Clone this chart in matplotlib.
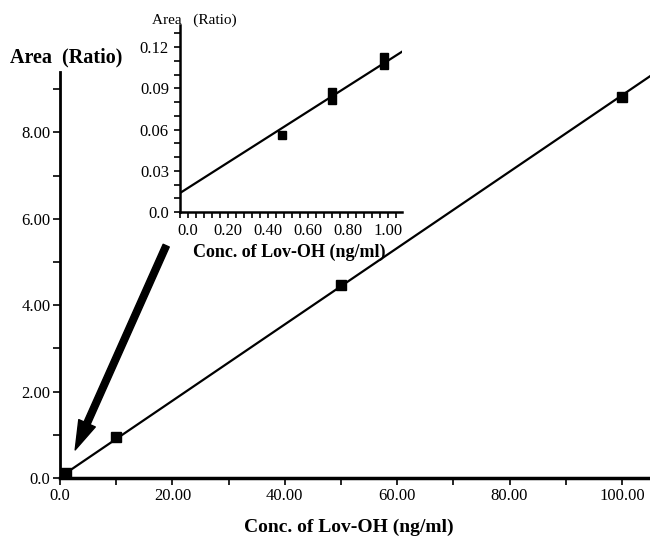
#!/usr/bin/env python
'''
calibration curve of Lov-OH with a low-range inset
'''

import matplotlib
matplotlib.use("Agg")
import matplotlib.pyplot as plt
from matplotlib.ticker import MultipleLocator

plt.rcParams['font.family'] = ['Liberation Serif', 'DejaVu Serif']

# main curve
conc = [0.47, 0.72, 0.98, 10, 50, 100]
area = [0.056, 0.084, 0.110, 0.95, 4.46, 8.82]
main_fit = (0.0884, 0.02)  # slope, intercept

x_ticks = [0, 20, 40, 60, 80, 100]
x_labels = ['0.0', '20.00', '40.00', '60.00', '80.00', '100.00']
y_ticks = [0, 2, 4, 6, 8]
y_labels = ['0.0', '2.00', '4.00', '6.00', '8.00']

# inset, low range (replicates drawn separately)
conc_low = [0.47, 0.72, 0.72, 0.98, 0.98]
area_low = [0.056, 0.0815, 0.0873, 0.107, 0.113]
inset_fit = (0.0926, 0.0175)

xi_ticks = [0, 0.2, 0.4, 0.6, 0.8, 1.0]
xi_labels = ['0.0', '0.20', '0.40', '0.60', '0.80', '1.00']
yi_ticks = [0, 0.03, 0.06, 0.09, 0.12]
yi_labels = ['0.0', '0.03', '0.06', '0.09', '0.12']


def style_axes(ax, lw, tick_len, fs, pad):
    for side in ['top', 'right']:
        ax.spines[side].set_visible(False)
    for side in ['left', 'bottom']:
        ax.spines[side].set_linewidth(lw)
    ax.tick_params(which='both', direction='out', width=1.2, length=tick_len,
                   labelsize=fs, pad=pad)


def plot_curve():
    fig = plt.figure(figsize=(6.5, 5.39), dpi=100)

    ax = fig.add_axes([60 / 650, 61 / 539, 590 / 650, 406 / 539])
    ax.plot(conc, area, 's', color='black', markersize=7)
    ax.axline((0, main_fit[1]), slope=main_fit[0], color='black', lw=1.6)
    ax.set_xlim(0, 105)
    ax.set_ylim(0, 9.4)
    ax.set_xticks(x_ticks, x_labels)
    ax.set_yticks(y_ticks, y_labels)
    ax.xaxis.set_minor_locator(MultipleLocator(10))
    ax.yaxis.set_minor_locator(MultipleLocator(1))
    style_axes(ax, 2.0, 5, 12, 2)
    ax.spines['bottom'].set_linewidth(2.5)
    ax.set_xlabel('Conc. of Lov-OH (ng/ml)', fontsize=14, fontweight='bold')
    ax.xaxis.set_label_coords(0.49, -0.1)
    fig.text(10 / 650, 1 - 57 / 539, 'Area  (Ratio)', fontsize=14.5,
             fontweight='bold', va='center')

    # arrow pointing at the low range
    ax.annotate('', xy=(2.7, 0.65), xytext=(18.9, 5.38),
                arrowprops=dict(facecolor='black', edgecolor='black',
                                width=4.8, headwidth=13, headlength=21,
                                shrink=0))

    ins = fig.add_axes([180 / 650, 327 / 539, 222 / 650, 187 / 539])
    ins.patch.set_alpha(0)
    ins.plot(conc_low, area_low, 's', color='black', markersize=5.5)
    ins.axline((0, inset_fit[1]), slope=inset_fit[0], color='black', lw=1.6)
    ins.set_xlim(-0.04, 1.07)
    ins.set_ylim(0, 0.136)
    ins.set_xticks(xi_ticks, xi_labels)
    ins.set_yticks(yi_ticks, yi_labels)
    ins.xaxis.set_minor_locator(MultipleLocator(0.04))
    ins.yaxis.set_minor_locator(MultipleLocator(0.01))
    style_axes(ins, 1.8, 4, 12, 4)
    ins.set_xlabel('Conc. of Lov-OH (ng/ml)', fontsize=13, fontweight='bold')
    ins.xaxis.set_label_coords(0.49, -0.17)
    fig.text(152 / 650, 1 - 20 / 539, 'Area   (Ratio)', fontsize=11,
             va='center')

    fig.savefig('out.png', dpi=100)


if __name__ == "__main__":
    plot_curve()
